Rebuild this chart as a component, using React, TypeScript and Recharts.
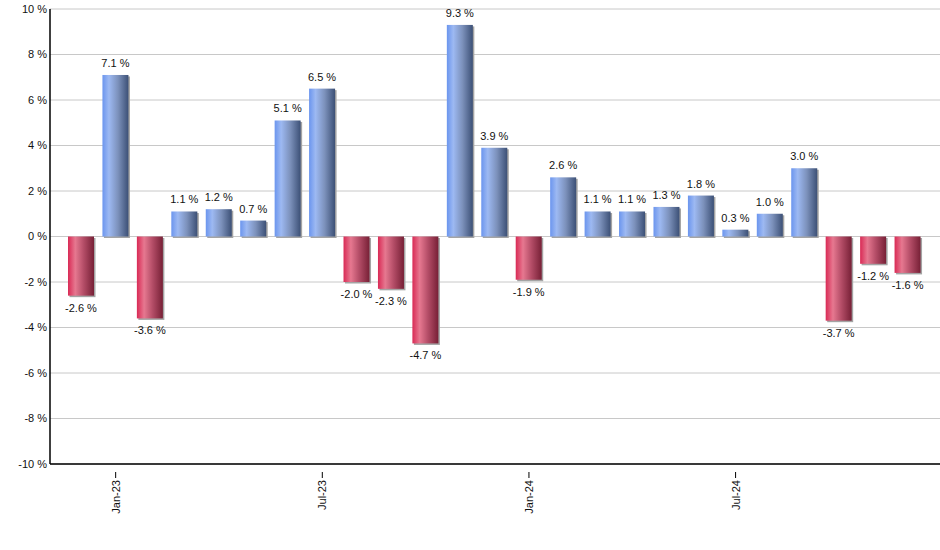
import { Bar, BarChart, CartesianGrid, LabelList, XAxis, YAxis } from "recharts";

// monthly returns, Dec-22 .. Dec-24
const months = [
  "Dec-22", "Jan-23", "Feb-23", "Mar-23", "Apr-23", "May-23", "Jun-23",
  "Jul-23", "Aug-23", "Sep-23", "Oct-23", "Nov-23", "Dec-23",
  "Jan-24", "Feb-24", "Mar-24", "Apr-24", "May-24", "Jun-24",
  "Jul-24", "Aug-24", "Sep-24", "Oct-24", "Nov-24", "Dec-24",
];
const returns = [
  -2.6, 7.1, -3.6, 1.1, 1.2, 0.7, 5.1,
  6.5, -2.0, -2.3, -4.7, 9.3, 3.9,
  -1.9, 2.6, 1.1, 1.1, 1.3, 1.8,
  0.3, 1.0, 3.0, -3.7, -1.2, -1.6,
];
const xTicks = ["Jan-23", "Jul-23", "Jan-24", "Jul-24"];
const yTicks = [-10, -8, -6, -4, -2, 0, 2, 4, 6, 8, 10];

const data = months.map((month, i) => ({ month, value: returns[i] }));

const FONT = "'Liberation Sans', Arial, sans-serif";

function GradientBar(props: any) {
  const { x, y, width, height, value } = props;
  const top = Math.min(y, y + height);
  const h = Math.abs(height);
  const fill = value >= 0 ? "url(#gradUp)" : "url(#gradDown)";
  return (
    <g>
      <rect x={x + 1.5} y={top + 1.5} width={width} height={h} fill="#a4a4a4" />
      <rect x={x} y={top} width={width} height={h} fill={fill} />
    </g>
  );
}

function ValueLabel(props: any) {
  const { x, y, width, height, value } = props;
  const top = Math.min(y, y + height);
  const bottom = Math.max(y, y + height);
  const positive = value >= 0;
  return (
    <text
      x={x + width / 2}
      y={positive ? top - 8 : bottom + 16}
      textAnchor="middle"
      fontSize={11}
      fontFamily={FONT}
      fill="#111"
    >
      {`${value.toFixed(1)} %`}
    </text>
  );
}

function MonthTick(props: any) {
  const { x, y, payload } = props;
  return (
    <g>
      <line x1={x} y1={y} x2={x} y2={y + 6} stroke="#000" strokeWidth={1} />
      <text
        x={x}
        y={y + 8}
        transform={`rotate(-90 ${x} ${y + 8})`}
        textAnchor="end"
        dominantBaseline="central"
        fontSize={11}
        fontFamily={FONT}
        fill="#111"
      >
        {payload.value}
      </text>
    </g>
  );
}

export default function App() {
  return (
    <div style={{ position: "absolute", left: 0, top: 0, background: "#fff" }}>
      <BarChart
        width={940}
        height={550}
        data={data}
        margin={{ top: 9, right: 0, bottom: 0, left: 0 }}
      >
        <defs>
          <linearGradient id="gradUp" x1="0" y1="0" x2="1" y2="0">
            <stop offset="0%" stopColor="#6b95ee" />
            <stop offset="25%" stopColor="#9db9f2" />
            <stop offset="60%" stopColor="#7c91bb" />
            <stop offset="100%" stopColor="#3c5076" />
          </linearGradient>
          <linearGradient id="gradDown" x1="0" y1="0" x2="1" y2="0">
            <stop offset="0%" stopColor="#d92a55" />
            <stop offset="28%" stopColor="#e67890" />
            <stop offset="60%" stopColor="#b44d67" />
            <stop offset="100%" stopColor="#772036" />
          </linearGradient>
        </defs>
        <CartesianGrid vertical={false} stroke="#c8c8c8" />
        <XAxis
          dataKey="month"
          ticks={xTicks}
          interval={0}
          height={86}
          padding={{ left: 14, right: 15 }}
          axisLine={{ stroke: "#000", strokeWidth: 1.5 }}
          tickLine={false}
          tick={<MonthTick />}
        />
        <YAxis
          domain={[-10, 10]}
          ticks={yTicks}
          interval={0}
          width={50}
          allowDataOverflow
          axisLine={{ stroke: "#000", strokeWidth: 1.5 }}
          tickLine={false}
          tickSize={0}
          tickMargin={3}
          tickFormatter={(v: number) => `${v} %`}
          tick={{ fontSize: 11, fontFamily: FONT, fill: "#111" }}
        />
        <Bar
          dataKey="value"
          barSize={26}
          shape={<GradientBar />}
          isAnimationActive={false}
        >
          <LabelList dataKey="value" content={<ValueLabel />} />
        </Bar>
      </BarChart>
    </div>
  );
}
